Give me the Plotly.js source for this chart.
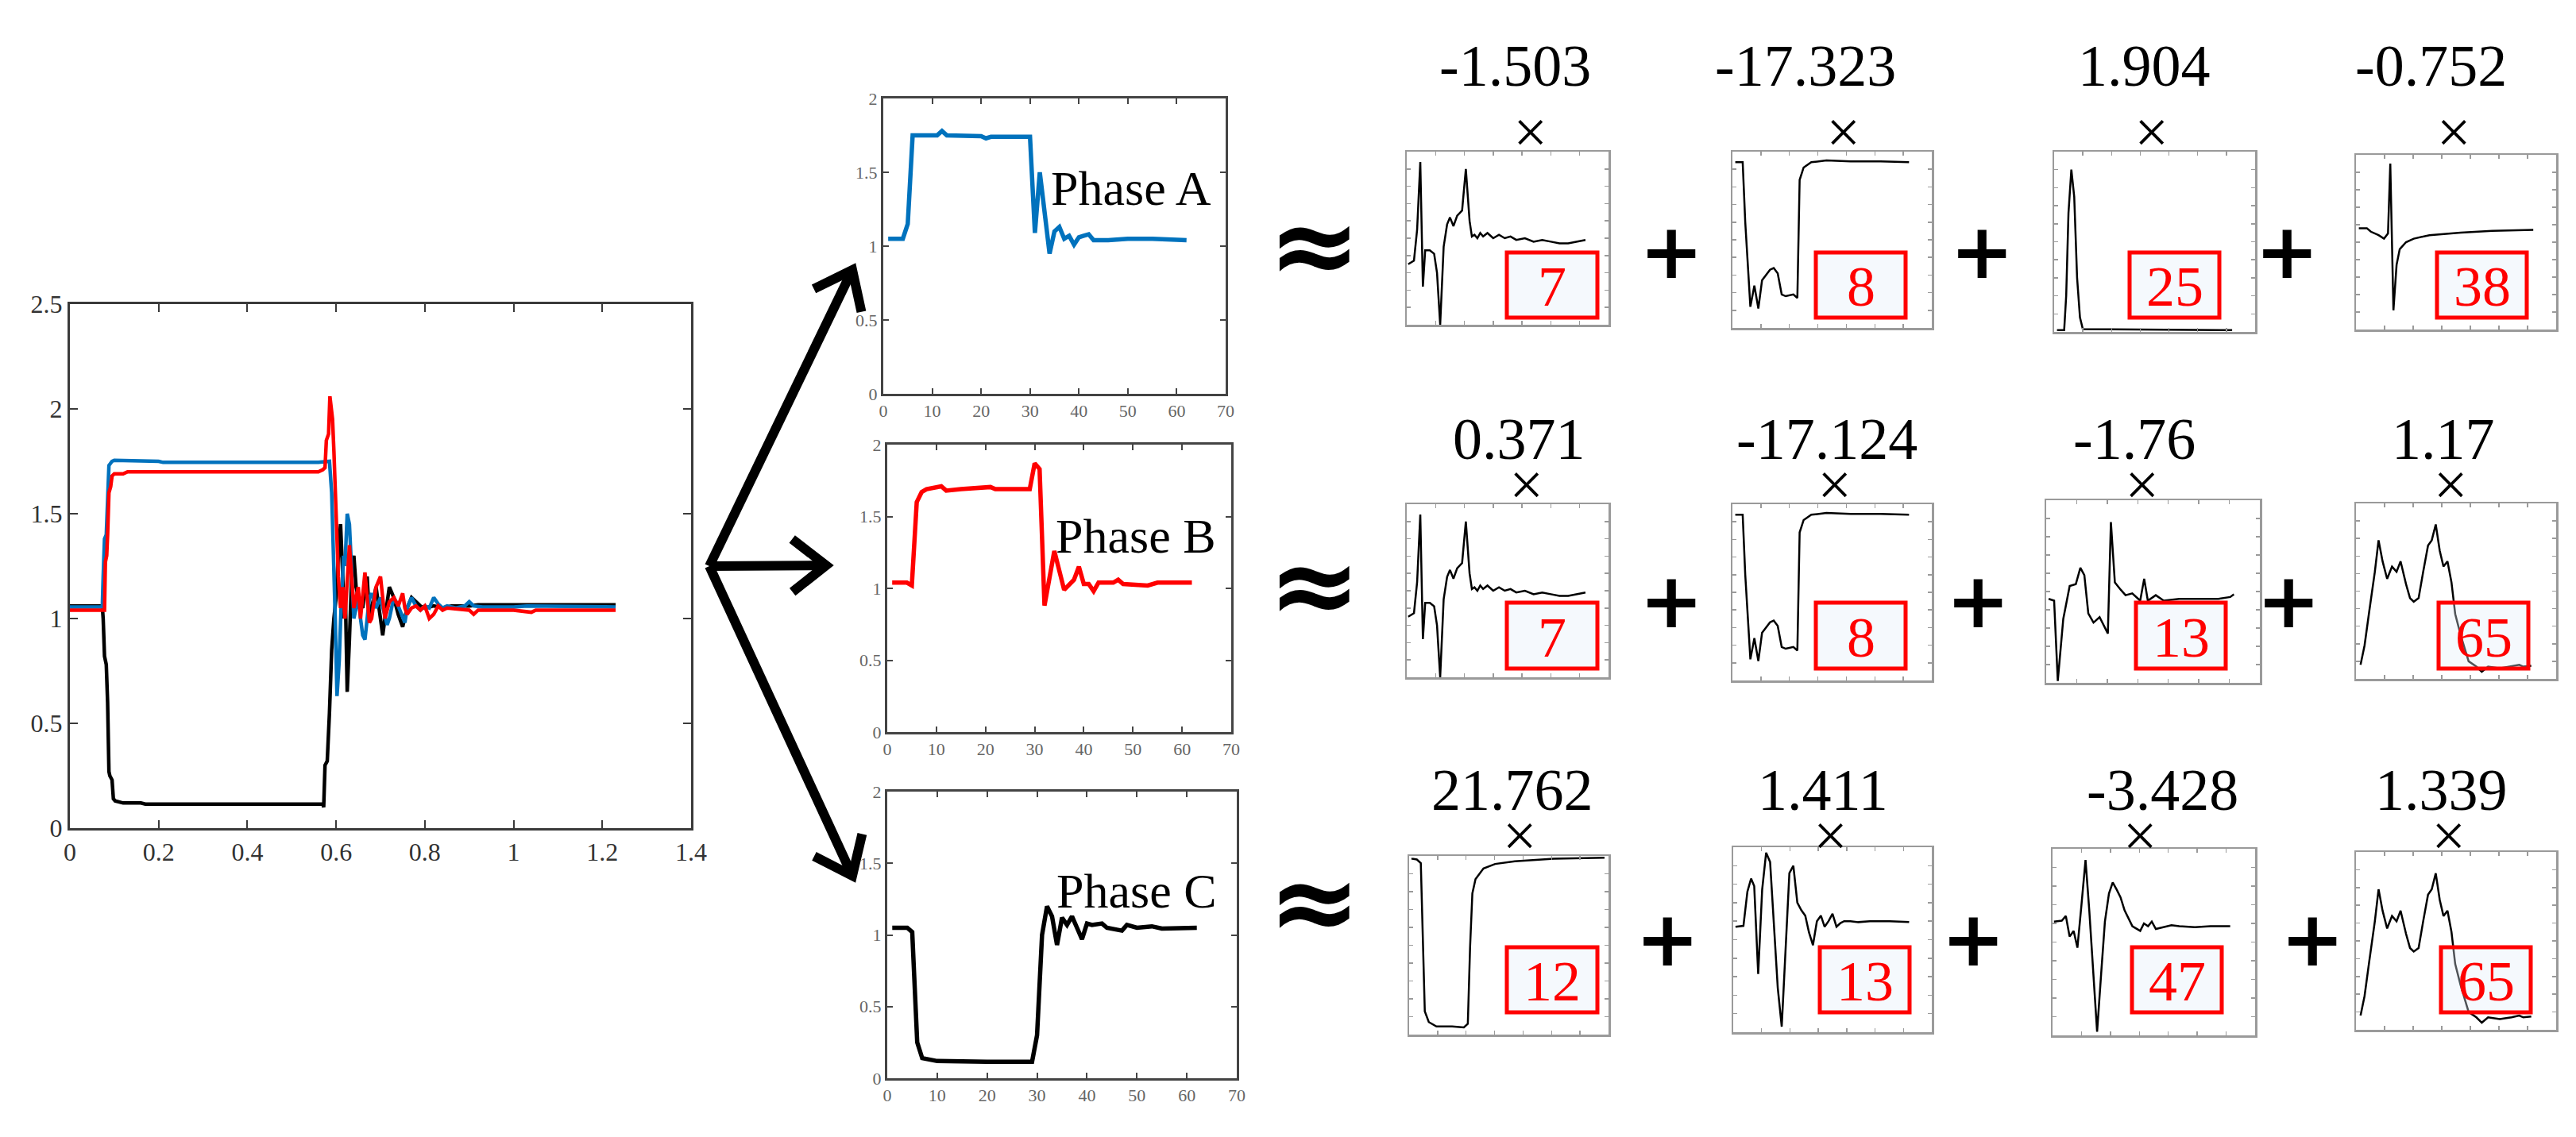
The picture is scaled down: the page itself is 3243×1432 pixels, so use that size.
<!DOCTYPE html>
<html>
<head>
<meta charset="utf-8">
<script src="https://cdn.plot.ly/plotly-3.0.1.min.js"></script>
<style>html,body{margin:0;padding:0;background:#fff;}#chart{width:3243px;height:1432px;}</style>
</head>
<body>
<div id="chart"></div>
<script>
// ---------------- DATA ----------------
// Main chart: three phase voltages vs time (s)
const mainX_A = [0, 0.073, 0.075, 0.078, 0.082, 0.085, 0.088, 0.095, 0.1, 0.2, 0.21, 0.56, 0.575, 0.585, 0.59, 0.594, 0.598, 0.602, 0.607, 0.612, 0.617, 0.62, 0.625, 0.63, 0.635, 0.64, 0.645, 0.65, 0.655, 0.66, 0.665, 0.67, 0.675, 0.68, 0.69, 0.7, 0.71, 0.715, 0.72, 0.73, 0.74, 0.75, 0.755, 0.76, 0.77, 0.78, 0.79, 0.8, 0.81, 0.82, 0.83, 0.84, 0.85, 0.87, 0.89, 0.9, 0.91, 0.93, 1.0, 1.03, 1.23];
const mainY_A = [1.055, 1.055, 1.2, 1.38, 1.40, 1.62, 1.73, 1.75, 1.755, 1.75, 1.745, 1.745, 1.75, 1.75, 1.6, 1.35, 1.0, 0.63, 0.8, 1.1, 1.3, 1.25, 1.5, 1.45, 1.2, 1.0, 1.05, 1.12, 1.0, 0.92, 0.9, 1.0, 1.1, 1.12, 1.05, 1.1, 1.0, 0.97, 1.0, 1.1, 1.06, 1.0, 0.98, 1.05, 1.1, 1.06, 1.04, 1.06, 1.05, 1.1, 1.07, 1.05, 1.06, 1.05, 1.06, 1.08, 1.06, 1.055, 1.055, 1.06, 1.055];
const mainX_B = [0, 0.078, 0.08, 0.083, 0.085, 0.088, 0.092, 0.095, 0.1, 0.12, 0.13, 0.56, 0.57, 0.575, 0.578, 0.583, 0.586, 0.59, 0.592, 0.595, 0.6, 0.605, 0.61, 0.615, 0.62, 0.625, 0.63, 0.635, 0.64, 0.645, 0.65, 0.655, 0.66, 0.665, 0.67, 0.675, 0.68, 0.685, 0.69, 0.7, 0.705, 0.71, 0.715, 0.72, 0.73, 0.74, 0.75, 0.755, 0.76, 0.77, 0.78, 0.79, 0.8, 0.81, 0.82, 0.83, 0.84, 0.85, 0.9, 0.91, 0.92, 1.0, 1.04, 1.05, 1.23];
const mainY_B = [1.04, 1.04, 1.27, 1.3, 1.4, 1.6, 1.63, 1.68, 1.69, 1.69, 1.7, 1.7, 1.71, 1.72, 1.85, 1.88, 2.06, 2.0, 1.95, 1.8, 1.5, 1.2, 1.05, 1.15, 1.0, 1.15, 1.35, 1.2, 1.05, 1.1, 1.15, 1.0, 1.1, 1.22, 1.1, 0.98, 1.0, 1.08, 1.15, 1.2, 1.1, 1.0, 1.04, 1.08, 1.1, 1.06, 1.12, 1.05, 1.02, 1.05, 1.06, 1.04, 1.06, 1.0, 1.02, 1.06, 1.04, 1.05, 1.04, 1.02, 1.04, 1.04, 1.03, 1.04, 1.04];
const mainX_C = [0, 0.073, 0.075, 0.078, 0.082, 0.085, 0.088, 0.09, 0.095, 0.098, 0.102, 0.12, 0.16, 0.17, 0.57, 0.572, 0.575, 0.58, 0.585, 0.59, 0.595, 0.6, 0.605, 0.61, 0.615, 0.618, 0.621, 0.625, 0.63, 0.635, 0.64, 0.645, 0.65, 0.66, 0.665, 0.67, 0.675, 0.68, 0.69, 0.7, 0.705, 0.71, 0.72, 0.73, 0.74, 0.75, 0.76, 0.77, 0.78, 0.79, 0.8, 0.82, 0.84, 0.86, 0.9, 0.92, 1.23];
const mainY_C = [1.06, 1.06, 1.0, 0.82, 0.78, 0.6, 0.27, 0.25, 0.23, 0.14, 0.13, 0.12, 0.12, 0.115, 0.115, 0.1, 0.3, 0.32, 0.55, 0.85, 1.0, 1.1, 1.3, 1.45, 1.2, 1.0, 1.1, 0.65, 0.9, 1.2, 1.3, 1.15, 1.1, 1.05, 1.15, 1.2, 1.0, 1.05, 1.15, 1.0, 0.92, 1.0, 1.15, 1.1, 1.02, 0.96, 1.05, 1.1, 1.08, 1.06, 1.05, 1.06, 1.05, 1.06, 1.06, 1.065, 1.065];

// Resampled phase signals (sample index)
const midX_A = [1, 4, 5, 6, 11, 12, 13, 20, 21, 22, 30, 31, 32, 34, 35, 36, 37, 38, 39, 40, 41, 42, 43, 46, 50, 55, 62];
const midY_A = [1.05, 1.05, 1.15, 1.75, 1.75, 1.78, 1.75, 1.745, 1.73, 1.74, 1.74, 1.09, 1.5, 0.95, 1.1, 1.13, 1.05, 1.07, 1.01, 1.06, 1.07, 1.08, 1.04, 1.04, 1.05, 1.05, 1.04];
const midX_B = [1, 4, 5, 6, 7, 8, 11, 12, 15, 20, 21, 22, 29, 30, 31, 32, 34, 36, 38, 39, 40, 41, 42, 43, 46, 47, 48, 53, 55, 62];
const midY_B = [1.04, 1.04, 1.02, 1.6, 1.67, 1.69, 1.71, 1.68, 1.69, 1.70, 1.705, 1.69, 1.69, 1.87, 1.83, 0.88, 1.26, 0.99, 1.06, 1.15, 1.03, 1.03, 0.98, 1.04, 1.04, 1.06, 1.03, 1.02, 1.04, 1.04];
const midX_C = [1, 4, 5, 6, 7, 10, 20, 29, 30, 31, 32, 33, 34, 35, 36, 37, 38, 39, 40, 41, 43, 44, 47, 48, 50, 53, 55, 62];
const midY_C = [1.05, 1.05, 1.02, 0.25, 0.14, 0.12, 0.115, 0.115, 0.3, 1.0, 1.2, 1.13, 0.93, 1.12, 1.07, 1.13, 1.05, 0.97, 1.08, 1.07, 1.08, 1.05, 1.03, 1.07, 1.05, 1.06, 1.045, 1.05];
const phaseNames = ["Phase A", "Phase B", "Phase C"];

// Dictionary atoms (normalised shapes)
const t7x = [0.5, 2.5, 3.6, 4.7, 5.6, 6.4, 8, 9.5, 10.5, 11.6, 12.8, 14, 15, 16.2, 17.5, 19.2, 20.5, 21.8, 22.6, 23.5, 24.5, 25.5, 26.5, 28, 30, 32, 34, 36, 38, 41, 44, 47, 50, 53, 56, 59, 62];
const t7y = [0.35, 0.37, 0.55, 0.94, 0.22, 0.43, 0.43, 0.41, 0.3, 0.0, 0.45, 0.58, 0.62, 0.57, 0.63, 0.66, 0.9, 0.6, 0.51, 0.52, 0.5, 0.53, 0.51, 0.53, 0.5, 0.52, 0.5, 0.51, 0.49, 0.5, 0.48, 0.49, 0.48, 0.47, 0.47, 0.48, 0.49];
const t8x = [1, 3.6, 4.5, 6.3, 7.7, 9.1, 10.4, 11.8, 13.2, 14.5, 15.9, 17.3, 18.7, 21.4, 22.8, 23.6, 25, 27.7, 33, 41.5, 52, 62];
const t8y = [0.94, 0.94, 0.6, 0.12, 0.24, 0.11, 0.27, 0.3, 0.33, 0.34, 0.31, 0.19, 0.18, 0.19, 0.17, 0.84, 0.91, 0.94, 0.95, 0.945, 0.945, 0.94];
const t25x = [1, 3.5, 4.2, 5, 6, 7, 8, 9, 10, 62];
const t25y = [0.01, 0.01, 0.2, 0.66, 0.9, 0.75, 0.3, 0.08, 0.015, 0.01];
const t38x = [1, 3.8, 5.2, 7.9, 9.8, 11.2, 12, 13.1, 14.2, 15.3, 17.5, 20.2, 25.7, 36.6, 47.6, 62];
const t38y = [0.58, 0.58, 0.56, 0.54, 0.52, 0.55, 0.95, 0.11, 0.37, 0.46, 0.5, 0.52, 0.54, 0.555, 0.565, 0.57];
const t13ax = [0.8, 2.6, 3.8, 5.6, 7.7, 9.7, 11.2, 12.5, 13.8, 15.5, 17.5, 19.2, 20.2, 21.2, 22.5, 24.4, 26, 28.2, 30.8, 32.1, 33.3, 35.9, 38.5, 43.6, 51.3, 56.4, 60.3, 61.5];
const t13ay = [0.46, 0.45, 0.01, 0.35, 0.53, 0.54, 0.63, 0.59, 0.38, 0.33, 0.36, 0.3, 0.27, 0.88, 0.55, 0.51, 0.48, 0.49, 0.45, 0.57, 0.45, 0.48, 0.45, 0.46, 0.46, 0.46, 0.47, 0.485];
const t65x = [1.6, 3, 4.6, 6.6, 7.9, 9.3, 10.9, 12.6, 14.2, 15.6, 17.5, 18.9, 20.2, 21.9, 23.5, 25.2, 26.5, 27.9, 29.3, 30.6, 32, 33.4, 34.7, 36.6, 39.4, 42.1, 44, 46.2, 50.3, 54.4, 57.1, 58.5, 61.3];
const t65y = [0.08, 0.19, 0.38, 0.61, 0.79, 0.67, 0.57, 0.64, 0.61, 0.67, 0.54, 0.46, 0.44, 0.46, 0.61, 0.76, 0.79, 0.88, 0.73, 0.64, 0.67, 0.55, 0.37, 0.25, 0.10, 0.07, 0.04, 0.07, 0.06, 0.07, 0.08, 0.07, 0.075];
const t12x = [0.8, 2.7, 4.1, 4.7, 5.5, 6.9, 9.6, 15.1, 19.2, 20.6, 21.4, 22.2, 23.3, 26.1, 30.2, 37.1, 50.8, 68.6];
const t12y = [0.985, 0.98, 0.96, 0.64, 0.13, 0.07, 0.045, 0.045, 0.04, 0.06, 0.49, 0.79, 0.87, 0.93, 0.955, 0.97, 0.985, 0.99];
const t13bx = [0.8, 3.6, 5, 6.3, 7.4, 8.8, 10.2, 11.6, 13, 14.3, 15.7, 17.1, 18.5, 19.8, 21.2, 22.6, 24, 25.4, 26.7, 28.1, 29.5, 30.9, 32.2, 33.6, 35, 36.4, 37.8, 39.1, 41.3, 44.1, 48.2, 55.1, 62];
const t13by = [0.57, 0.575, 0.76, 0.83, 0.79, 0.315, 0.77, 0.97, 0.92, 0.6, 0.24, 0.03, 0.46, 0.86, 0.9, 0.7, 0.66, 0.63, 0.54, 0.47, 0.6, 0.63, 0.57, 0.6, 0.64, 0.57, 0.59, 0.6, 0.6, 0.595, 0.6, 0.6, 0.595];
const t47x = [0.5, 3.2, 4.6, 5.9, 7.3, 8.6, 10, 11.4, 12.7, 14.1, 15.4, 16.8, 18.1, 19.5, 20.8, 22.2, 23.5, 24.9, 26.2, 27.6, 30.3, 31.6, 33, 34.3, 35.7, 38.4, 41.1, 43.8, 49.2, 54.6, 61.4];
const t47y = [0.61, 0.615, 0.64, 0.53, 0.56, 0.47, 0.7, 0.94, 0.67, 0.33, 0.02, 0.33, 0.61, 0.76, 0.82, 0.78, 0.74, 0.67, 0.63, 0.585, 0.56, 0.6, 0.585, 0.61, 0.57, 0.58, 0.59, 0.585, 0.58, 0.585, 0.585];

// Coefficients and atom indices per phase row
const coefRow1 = ["-1.503", "-17.323", "1.904", "-0.752"];
const coefRow2 = ["0.371", "-17.124", "-1.76", "1.17"];
const coefRow3 = ["21.762", "1.411", "-3.428", "1.339"];
const atomRow1 = ["7", "8", "25", "38"];
const atomRow2 = ["7", "8", "13", "65"];
const atomRow3 = ["12", "13", "47", "65"];

// ---------------- LAYOUT (pixel geometry) ----------------
const W = 3243, H = 1432;
const px = v => v / W, py = v => 1 - v / H;
const dom = (x0, x1, y0, y1) => ({x: [px(x0), px(x1)], y: [py(y1), py(y0)]});

const serif = "Liberation Serif, Times New Roman, serif";
const traces = [];
const layout = {
  width: W, height: H, margin: {l: 0, r: 0, t: 0, b: 0},
  paper_bgcolor: "#ffffff", plot_bgcolor: "#ffffff", showlegend: false,
  shapes: [], annotations: []
};

function addAxes(id, d, xr, xd, yr, yd, opts) {
  const xa = id === 1 ? "xaxis" : "xaxis" + id;
  const ya = id === 1 ? "yaxis" : "yaxis" + id;
  const yid = id === 1 ? "y" : "y" + id;
  const xid = id === 1 ? "x" : "x" + id;
  const common = {
    showgrid: false, zeroline: false, showline: true, mirror: "ticks",
    ticks: "inside", ticklen: opts.ticklen, tickwidth: opts.tickwidth,
    tickcolor: opts.lineColor, linecolor: opts.lineColor, linewidth: opts.lineWidth,
    showticklabels: opts.labels, fixedrange: true,
    tickfont: {family: serif, size: opts.fontSize, color: opts.fontColor}
  };
  layout[xa] = Object.assign({}, common, {domain: d.x, range: xr, dtick: xd, tick0: 0, anchor: yid});
  layout[ya] = Object.assign({}, common, {domain: d.y, range: yr, dtick: yd, tick0: 0, anchor: xid});
  return {x: xid, y: yid};
}

// Main chart
const mainAx = addAxes(1, dom(88, 870, 383, 1043), [0, 1.4], 0.2, [0, 2.5], 0.5,
  {ticklen: 10, tickwidth: 2, lineColor: "#3a3a3a", lineWidth: 3, labels: true, fontSize: 32, fontColor: "#333"});
[[mainX_C, mainY_C, "#000000"], [mainX_A, mainY_A, "#0072BD"], [mainX_B, mainY_B, "#FF0000"]].forEach(s => {
  traces.push({x: s[0], y: s[1], xaxis: mainAx.x, yaxis: mainAx.y, mode: "lines",
    line: {color: s[2], width: 4.5}, hoverinfo: "skip"});
});

// Middle phase charts
const midDoms = [dom(1112, 1543, 124, 496), dom(1117, 1550, 560, 922), dom(1117, 1557, 997, 1358)];
const midData = [[midX_A, midY_A, "#0072BD"], [midX_B, midY_B, "#FF0000"], [midX_C, midY_C, "#000000"]];
const phaseLabelPos = [[34, 1.39], [34, 1.365], [33.5, 1.31]];
midDoms.forEach((d, i) => {
  const ax = addAxes(2 + i, d, [0, 70], 10, [0, 2], 0.5,
    {ticklen: 7, tickwidth: 2, lineColor: "#444", lineWidth: 3, labels: true, fontSize: 22, fontColor: "#666"});
  traces.push({x: midData[i][0], y: midData[i][1], xaxis: ax.x, yaxis: ax.y, mode: "lines",
    line: {color: midData[i][2], width: 5.5}, hoverinfo: "skip"});
  layout.annotations.push({xref: ax.x, yref: ax.y, x: phaseLabelPos[i][0], y: phaseLabelPos[i][1],
    xanchor: "left", yanchor: "middle", showarrow: false, text: phaseNames[i],
    font: {family: serif, size: 62, color: "#000"}});
});

// Thumbnails
const thumbData = [
  [[t7x, t7y], [t8x, t8y], [t25x, t25y], [t38x, t38y]],
  [[t7x, t7y], [t8x, t8y], [t13ax, t13ay], [t65x, t65y]],
  [[t12x, t12y], [t13bx, t13by], [t47x, t47y], [t65x, t65y]]
];
const thumbBoxes = [
  [[1771, 2025, 191, 409], [2181, 2432, 191, 413], [2586, 2839, 191, 418], [2966, 3218, 195, 415]],
  [[1771, 2025, 635, 853], [2181, 2432, 635, 857], [2576, 2845, 630, 860], [2966, 3218, 634, 855]],
  [[1774, 2025, 1078, 1303], [2182, 2432, 1067, 1300], [2584, 2839, 1069, 1304], [2966, 3218, 1073, 1297]]
];
const coefs = [coefRow1, coefRow2, coefRow3];
const atoms = [atomRow1, atomRow2, atomRow3];
const coefPos = {y: [83, 553, 995], x: [[1907, 2273, 2699, 3060], [1912, 2300, 2687, 3076], [1904, 2295, 2722, 3073]]};
const timesPos = {y: [166, 610, 1052], x: [[1924, 2318, 2704, 3091], [1921, 2313, 2701, 3088], [1914, 2305, 2694, 3083]]};
const plusPos = {y: [317, 757, 1183], x: [[2104, 2495, 2879], [2104, 2490, 2881], [2099, 2484, 2911]]};
const approxPos = {x: 1654, y: [308, 736, 1135]};
const redBoxes = {
  y: [[318, 400], [759, 842], [1193, 1275]],
  x: [[[1897, 2011], [2286, 2399], [2681, 2794], [3068, 3181]],
      [[1897, 2011], [2286, 2399], [2689, 2802], [3070, 3183]],
      [[1897, 2011], [2291, 2404], [2684, 2797], [3073, 3186]]]
};

// coefficient + "×" are one two-line text block (line spacing chosen from the geometry)
const CS = 74, TS = 76, ASC = 0.891, DESC = 0.216, MID = 0.338;
function coefBlock(r, c) {
  const yc = coefPos.y[r], yx = timesPos.y[r];
  const s = (yx - yc) + 1;               // baseline-to-baseline distance
  const base = s / 1.3;                  // plotly line spacing = 1.3 em of the annotation font
  const B = yc + MID * CS;               // first-line baseline
  const top = B - ASC * CS, bottom = B + s + DESC * TS;
  const nb = Math.round((timesPos.x[r][c] - coefPos.x[r][c]) / (0.125 * TS));
  const pad = "&nbsp;".repeat(Math.abs(nb));
  const timesLine = nb >= 0 ? pad + "×" : "×" + pad;
  return {
    xref: "paper", yref: "paper", x: px(coefPos.x[r][c]), y: py((top + bottom) / 2),
    xanchor: "center", yanchor: "middle", showarrow: false, borderpad: 0, align: "center",
    text: '<span style="font-size:' + CS + 'px">' + coefs[r][c] + '</span><br><span style="font-size:' + TS + 'px">' + timesLine + '</span>',
    font: {family: serif, size: base, color: "#000"}
  };
}

let axId = 5;
for (let r = 0; r < 3; r++) {
  for (let c = 0; c < 4; c++) {
    const b = thumbBoxes[r][c];
    const ax = addAxes(axId++, dom(b[0], b[1], b[2], b[3]), [0, 70], 10, [0, 1], 0.1,
      {ticklen: 5, tickwidth: 1.5, lineColor: "#9a9a9a", lineWidth: 2.5, labels: false, fontSize: 10, fontColor: "#999"});
    traces.push({x: thumbData[r][c][0], y: thumbData[r][c][1], xaxis: ax.x, yaxis: ax.y, mode: "lines",
      line: {color: "#000", width: 2.5}, hoverinfo: "skip"});
    layout.annotations.push(coefBlock(r, c));
    // red index box
    const bx = redBoxes.x[r][c], by = redBoxes.y[r];
    layout.shapes.push({type: "rect", xref: "paper", yref: "paper", layer: "above",
      x0: px(bx[0]), x1: px(bx[1]), y0: py(by[1]), y1: py(by[0]),
      line: {color: "#FF0000", width: 5}, fillcolor: "rgba(225,238,250,0.35)"});
    layout.annotations.push({xref: "paper", yref: "paper", x: px((bx[0] + bx[1]) / 2), y: py((by[0] + by[1]) / 2 + 2),
      xanchor: "center", yanchor: "middle", showarrow: false, text: atoms[r][c],
      font: {family: serif, size: 72, color: "#FF0000"}});
  }
  plusPos.x[r].forEach(x => {
    layout.annotations.push({xref: "paper", yref: "paper", x: px(x), y: py(plusPos.y[r]),
      xanchor: "center", yanchor: "middle", showarrow: false, text: "+",
      font: {family: "DejaVu Sans", size: 96, color: "#000", weight: "bold"}});
  });
  layout.annotations.push({xref: "paper", yref: "paper", x: px(approxPos.x), y: py(approxPos.y[r]),
    xanchor: "center", yanchor: "middle", showarrow: false, text: "≈",
    font: {family: "DejaVu Sans", size: 140, color: "#000", weight: "bold"}});
}

// Arrows from the main chart to each phase chart
const arrowStart = [893, 713];
const arrowTips = [[1073, 340], [1040, 712], [1073, 1103]];
arrowTips.forEach(t => {
  const dx = t[0] - arrowStart[0], dy = t[1] - arrowStart[1];
  const len = Math.hypot(dx, dy), ux = dx / len, uy = dy / len;
  const L = 54, ang = 38 * Math.PI / 180;
  const arm = s => {
    const c = Math.cos(s * ang), sn = Math.sin(s * ang);
    const rx = -(ux * c - uy * sn), ry = -(ux * sn + uy * c);
    return [t[0] + L * rx, t[1] + L * ry];
  };
  const a1 = arm(1), a2 = arm(-1);
  const P = p => px(p[0]).toFixed(5) + "," + py(p[1]).toFixed(5);
  layout.shapes.push({type: "path", xref: "paper", yref: "paper", layer: "above",
    path: "M" + P(arrowStart) + " L" + P(t), line: {color: "#000", width: 12}});
  layout.shapes.push({type: "path", xref: "paper", yref: "paper", layer: "above",
    path: "M" + P(a1) + " L" + P(t) + " L" + P(a2), line: {color: "#000", width: 12}});
});

Plotly.newPlot("chart", traces, layout, {staticPlot: true, displayModeBar: false});
</script>
</body>
</html>
